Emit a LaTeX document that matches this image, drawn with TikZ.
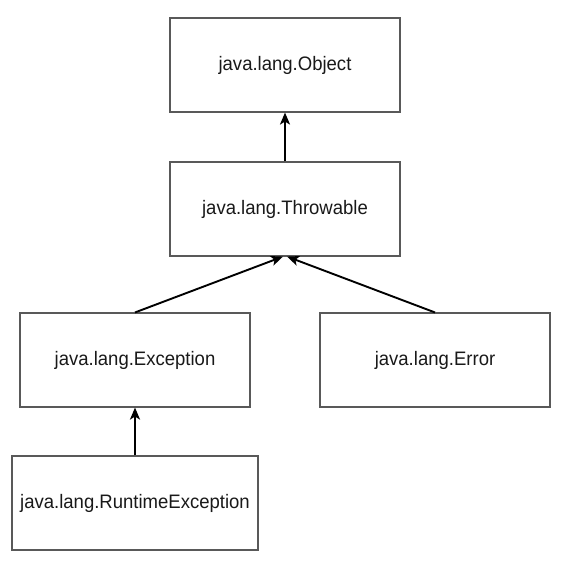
\documentclass[tikz,border=0pt]{standalone}
\usepackage{fontspec}
\setmainfont[FakeStretch=0.95]{Liberation Sans}
\usetikzlibrary{arrows.meta}
\begin{document}
\begin{tikzpicture}[x=1pt,y=-1pt,
  cls/.style={draw=black!65,line width=1.1pt,minimum height=94pt,inner sep=0pt,
    font=\fontsize{19.5}{22}\selectfont,text=black!90},
  inh/.style={line width=1.9pt,-{Stealth[length=12pt,width=10pt,inset=3pt]}}]
\useasboundingbox (0,0) rectangle (577,571);
\node[cls,minimum width=230pt] (obj) at (285,65) {java.lang.Object};
\node[cls,minimum width=230pt] (thr) at (285,209) {java.lang.Throwable};
\node[cls,minimum width=230pt] (exc) at (135,360) {java.lang.Exception};
\node[cls,minimum width=230pt] (err) at (435,360) {java.lang.Error};
\node[cls,minimum width=246pt] (rte) at (135,503) {java.lang.RuntimeException};
\draw[inh] (thr.north) -- (obj.south);
\draw[inh] (exc.north) -- ([xshift=-2pt]thr.south);
\draw[inh] (err.north) -- ([xshift=2pt]thr.south);
\draw[inh] (rte.north) -- (exc.south);
\end{tikzpicture}
\end{document}
